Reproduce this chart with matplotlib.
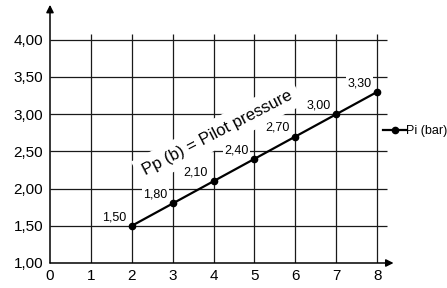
import matplotlib.pyplot as plt

plt.rcParams['font.family'] = ['Liberation Sans', 'DejaVu Sans']

# data
x_vals = [2, 3, 4, 5, 6, 7, 8]
pi_bar = [1.50, 1.80, 2.10, 2.40, 2.70, 3.00, 3.30]
x_ticks = [0, 1, 2, 3, 4, 5, 6, 7, 8]
y_ticks = [1.00, 1.50, 2.00, 2.50, 3.00, 3.50, 4.00]

fig = plt.figure(figsize=(4.47, 2.88), dpi=100)
ax = fig.add_axes([50 / 447, 25 / 288, 40.9 * 8.6 / 447, 74.4 * 3.5 / 288])
ax.set_xlim(0, 8.6)
ax.set_ylim(1, 4.5)

for s in ax.spines.values():
    s.set_visible(False)

# grid
ax.vlines(x_ticks[1:], 1, 4.08, color='#1a1a1a', lw=0.9, zorder=1)
ax.hlines(y_ticks[1:], 0, 8.25, color='#1a1a1a', lw=0.9, zorder=1)

# axes with arrows
ax.annotate('', xy=(0, 4.47), xytext=(0, 1), annotation_clip=False,
            arrowprops=dict(arrowstyle='-|>', color='black', lw=1.1,
                            mutation_scale=11, shrinkA=0, shrinkB=0), zorder=4)
ax.annotate('', xy=(8.4, 1), xytext=(0, 1), annotation_clip=False,
            arrowprops=dict(arrowstyle='-|>', color='black', lw=1.1,
                            mutation_scale=11, shrinkA=0, shrinkB=0), zorder=4)

ax.set_xticks(x_ticks)
ax.set_xticklabels([str(t) for t in x_ticks])
ax.set_yticks(y_ticks)
ax.set_yticklabels([('%.2f' % t).replace('.', ',') for t in y_ticks])
ax.tick_params(axis='both', length=0, labelsize=11, colors='black')
ax.tick_params(axis='y', pad=5)
ax.tick_params(axis='x', pad=4)

ax.plot(x_vals, pi_bar, color='black', lw=1.6, marker='o', markersize=4.5,
        label='Pi (bar)', zorder=5, clip_on=False)

for xv, yv in zip(x_vals, pi_bar):
    ax.annotate(('%.2f' % yv).replace('.', ','), (xv, yv), xytext=(-4, 2),
                textcoords='offset points', ha='right', va='bottom', fontsize=9,
                bbox=dict(facecolor='white', edgecolor='none', pad=1), zorder=3)

ax.text(4.1, 2.75, 'Pp (b) = Pilot pressure', rotation=27.5, ha='center',
        va='center', fontsize=12, rotation_mode='anchor',
        bbox=dict(facecolor='white', edgecolor='none', pad=5), zorder=3)

ax.legend(loc='center left', bbox_to_anchor=(8.15 / 8.6, (2.77 - 1) / 3.5),
          frameon=False, fontsize=9, handlelength=1.8, handletextpad=0,
          borderaxespad=0, borderpad=0)

fig.savefig('out.png', dpi=100)
